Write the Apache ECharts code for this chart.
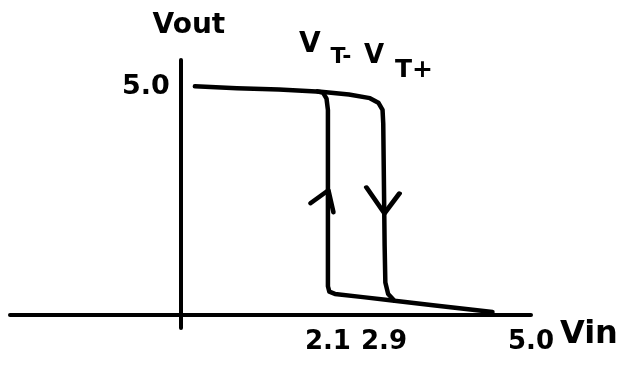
<!DOCTYPE html>
<html>
<head>
<meta charset="utf-8">
<title>Schmitt trigger hysteresis</title>
<script src="https://cdn.jsdelivr.net/npm/echarts@6/dist/echarts.min.js"></script>
<style>
  html, body { margin: 0; padding: 0; background: #fff; }
  #chart { width: 619px; height: 368px; }
</style>
</head>
<body>
<div id="chart"></div>
<script>
// Switching thresholds (V)
const VT_MINUS = 2.1;
const VT_PLUS = 2.9;

// Tick labels on each axis
const vinTicks = [2.1, 2.9, 5.0];
const voutTicks = [5.0];

// Main transfer path: output high, drops at VT+, then stays low
const highToLowPath = [
  [0.2, 5.02], [0.8, 4.98], [1.4, 4.95], [2.0, 4.9], [2.4, 4.84],
  [2.7, 4.76], [2.82, 4.66], [2.88, 4.5], [2.89, 4.2], [2.91, 1.5],
  [2.92, 0.7], [2.96, 0.45], [3.05, 0.3], [3.6, 0.2], [4.45, 0.05]
];

// Return branch: output low, rises at VT- back to the high level
const lowToHighPath = [
  [3.05, 0.3], [2.6, 0.38], [2.2, 0.45], [2.12, 0.5], [2.1, 0.62],
  [2.1, 4.5], [2.08, 4.75], [2.03, 4.88], [1.95, 4.91]
];

// Direction arrows on the two vertical branches: [vin, vout]
const arrowUp = [VT_MINUS, 2.49];
const arrowDown = [VT_PLUS, 2.51];

const INK = '#000';
const FONT = 'DejaVu Sans';

// Plot frame and axis ranges
const W = 619, H = 368;
const GRID = { left: 10, right: 88, top: 60, bottom: 40 };
const X_RANGE = [-2.44, 5.0];
const Y_RANGE = [-0.3, 5.6];

// Both axes cross at the origin; shift them (with their labels) there
const plotW = W - GRID.left - GRID.right;
const plotH = H - GRID.top - GRID.bottom;
const yAxisShift = -plotW * (0 - X_RANGE[0]) / (X_RANGE[1] - X_RANGE[0]);
const xAxisShift = -plotH * (0 - Y_RANGE[0]) / (Y_RANGE[1] - Y_RANGE[0]);

const chart = echarts.init(document.getElementById('chart'), null, { renderer: 'canvas' });

const inkLine = { color: INK, width: 4.5, cap: 'round', join: 'round' };

function thresholdLabel(vin, parts) {
  return {
    symbol: 'circle',
    symbolSize: 0,
    silent: true,
    data: parts.map(p => ({
      coord: [vin, 5.0],
      label: {
        show: true,
        formatter: p.text,
        offset: p.offset,
        color: INK,
        fontFamily: FONT,
        fontWeight: 'bold',
        fontSize: p.size
      }
    }))
  };
}

chart.setOption({
  animation: false,
  backgroundColor: '#fff',
  grid: Object.assign({ containLabel: false, outerBoundsMode: 'none' }, GRID),
  xAxis: {
    type: 'value',
    min: X_RANGE[0],
    max: X_RANGE[1],
    offset: xAxisShift,
    name: 'Vin',
    nameLocation: 'end',
    nameGap: 5,
    nameTextStyle: { color: INK, fontFamily: FONT, fontWeight: 'bold', fontSize: 32, verticalAlign: 'top', padding: [4, 0, 0, 0] },
    axisLine: { onZero: false, lineStyle: { color: INK, width: 4, cap: 'round' } },
    axisTick: { show: false },
    splitLine: { show: false },
    axisLabel: {
      customValues: vinTicks,
      formatter: v => v.toFixed(1),
      color: INK,
      fontFamily: FONT,
      fontWeight: 'bold',
      fontSize: 26,
      margin: 15,
      hideOverlap: false
    }
  },
  yAxis: {
    type: 'value',
    min: Y_RANGE[0],
    max: Y_RANGE[1],
    offset: yAxisShift,
    name: 'Vout',
    nameLocation: 'end',
    nameGap: 20,
    nameTextStyle: { color: INK, fontFamily: FONT, fontWeight: 'bold', fontSize: 28, padding: [0, 0, 0, 16] },
    axisLine: { onZero: false, lineStyle: { color: INK, width: 4, cap: 'round' } },
    axisTick: { show: false },
    splitLine: { show: false },
    axisLabel: {
      customValues: voutTicks,
      formatter: v => v.toFixed(1),
      hideOverlap: false,
      color: INK,
      fontFamily: FONT,
      fontWeight: 'bold',
      fontSize: 27,
      margin: 11
    }
  },
  series: [
    {
      name: 'high to low',
      type: 'line',
      data: highToLowPath,
      showSymbol: false,
      symbol: 'none',
      clip: false,
      lineStyle: inkLine,
      markPoint: thresholdLabel(VT_PLUS, [
        { text: 'V', offset: [-10, -31], size: 26 },
        { text: 'T+', offset: [30, -17], size: 25 }
      ])
    },
    {
      name: 'low to high',
      type: 'line',
      data: lowToHighPath,
      showSymbol: false,
      symbol: 'none',
      clip: false,
      lineStyle: inkLine,
      markPoint: thresholdLabel(VT_MINUS, [
        { text: 'V', offset: [-18, -43], size: 28 },
        { text: 'T-', offset: [13, -30], size: 22 }
      ])
    },
    {
      name: 'direction',
      type: 'scatter',
      silent: true,
      clip: false,
      itemStyle: { color: 'none', opacity: 1, borderColor: INK, borderWidth: 4.5, borderCap: 'round', borderJoin: 'round' },
      data: [
        { value: arrowUp, symbol: 'path://M0,13 L18,0 L23,22', symbolSize: [23, 22], symbolOffset: [-6, 0] },
        { value: arrowDown, symbol: 'path://M0,0 L18,26 L33,6', symbolSize: [33, 26], symbolOffset: [-1, 0] }
      ]
    }
  ]
});
</script>
</body>
</html>
